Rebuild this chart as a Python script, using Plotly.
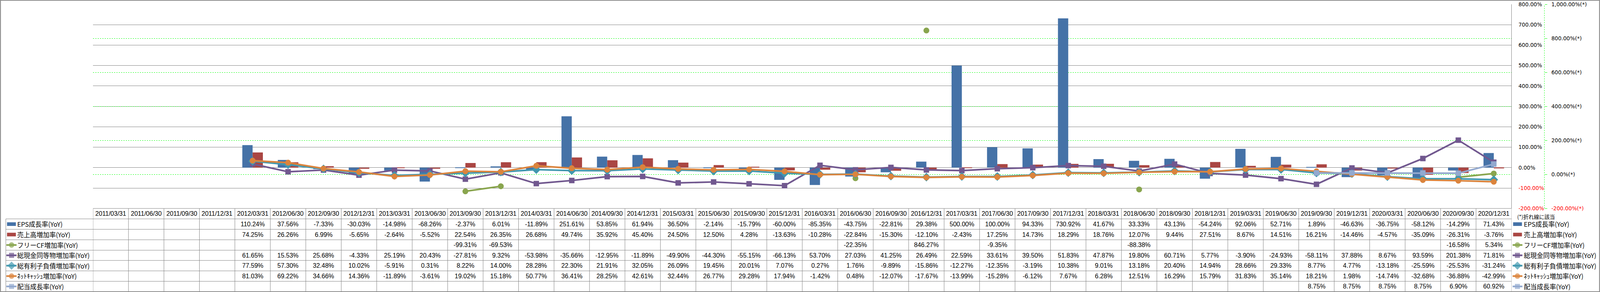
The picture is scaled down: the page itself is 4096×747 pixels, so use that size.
import plotly.graph_objects as go

# ---------------- data ----------------
dates = ["2011/03/31", "2011/06/30", "2011/09/30", "2011/12/31",
         "2012/03/31", "2012/06/30", "2012/09/30", "2012/12/31",
         "2013/03/31", "2013/06/30", "2013/09/30", "2013/12/31",
         "2014/03/31", "2014/06/30", "2014/09/30", "2014/12/31",
         "2015/03/31", "2015/06/30", "2015/09/30", "2015/12/31",
         "2016/03/31", "2016/06/30", "2016/09/30", "2016/12/31",
         "2017/03/31", "2017/06/30", "2017/09/30", "2017/12/31",
         "2018/03/31", "2018/06/30", "2018/09/30", "2018/12/31",
         "2019/03/31", "2019/06/30", "2019/09/30", "2019/12/31",
         "2020/03/31", "2020/06/30", "2020/09/30", "2020/12/31"]
N = None
eps = [N, N, N, N, 110.24, 37.56, -7.33, -30.03, -14.98, -68.26, -2.37, 6.01,
       -11.89, 251.61, 53.85, 61.94, 36.50, -2.14, -15.79, -60.00, -85.35, -43.75,
       -22.81, 29.38, 500.00, 100.00, 94.33, 730.92, 41.67, 33.33, 43.13, -54.24,
       92.06, 52.71, 1.89, -46.63, -36.75, -58.12, -14.29, 71.43]
sales = [N, N, N, N, 74.25, 26.26, 6.99, -5.65, -2.64, -5.52, 22.54, 26.35,
         26.68, 49.74, 35.92, 45.40, 24.50, 12.50, 4.28, -13.63, -10.28, -22.84,
         -15.30, -12.10, -2.43, 17.25, 14.73, 18.29, 18.76, 12.07, 9.44, 27.51,
         8.67, 14.51, 16.21, -14.46, -4.57, -35.09, -26.31, -3.76]
fcf = [N, N, N, N, N, N, N, N, N, N, -99.31, -69.53,
       N, N, N, N, N, N, N, N, N, -22.35, N, 846.27,
       N, -9.35, N, N, N, -88.38, N, N, N, N, N, N, N, N, -16.58, 5.34]
cash = [N, N, N, N, 61.65, 15.53, 25.68, -4.33, 25.19, 20.43, -27.81, 9.32,
        -53.98, -35.66, -12.95, -11.89, -49.90, -44.30, -55.15, -66.13, 53.70, 27.03,
        41.25, 26.49, 22.59, 33.61, 39.50, 51.83, 47.87, 19.80, 60.71, 5.77,
        -3.90, -24.93, -58.11, 37.88, 8.67, 93.59, 201.38, 71.81]
debt = [N, N, N, N, 77.59, 57.30, 32.48, 10.02, -5.91, 0.31, 8.22, 14.00,
        28.28, 22.30, 21.91, 32.05, 26.09, 19.45, 20.01, 7.07, 0.27, 1.76,
        -9.89, -15.86, -12.27, -12.35, -3.19, 10.38, 9.01, 13.18, 20.40, 14.94,
        28.66, 29.33, 8.77, 4.77, -13.18, -25.59, -25.53, -31.24]
netcash = [N, N, N, N, 81.03, 69.22, 34.66, 14.36, -11.89, -3.61, 19.02, 15.18,
           50.77, 36.41, 28.25, 42.61, 32.44, 26.77, 29.28, 17.94, -1.42, 0.48,
           -12.07, -17.67, -13.99, -15.28, -6.12, 7.67, 6.28, 12.51, 16.29, 15.79,
           31.83, 35.14, 18.21, 1.98, -14.74, -32.68, -36.88, -42.99]
dividend = [N, N, N, N, N, N, N, N, N, N, N, N, N, N, N, N, N, N, N, N,
            N, N, N, N, N, N, N, N, N, N, N, N, N, N, 8.75, 8.75, 8.75, 8.75, 6.90, 60.92]

series_names = ["EPS成長率(YoY)", "売上高増加率(YoY)", "フリーCF増加率(YoY)",
                "総現金同等物増加率(YoY)", "総有利子負債増加率(YoY)",
                "ﾈｯﾄｷｬｯｼｭ増加率(YoY)", "配当成長率(YoY)"]
primary_ticks = [-200, -100, 0, 100, 200, 300, 400, 500, 600, 700, 800]
secondary_ticks = [-200, 0, 200, 400, 600, 800, 1000]
note_text = "(*)折れ線に該当"

# ---------------- style ----------------
C_EPS, C_SALES = "#4572A7", "#AA4643"
C_FCF, C_CASH, C_DEBT, C_NET, C_DIV = "#89A54E", "#71588F", "#4198AF", "#DB843D", "#93A9CF"
GRID = "#808080"
GREEN = "#00FF00"
W, H = 4096, 747
RW, RH = 7052.0, 1286.0           # reference pixel frame


def px(x):
    return x / RW


def py(y):
    return 1 - y / RH


PLOT_L, PLOT_R, PLOT_T, PLOT_B = 410, 6662, 19, 918
ROWS = [918, 964, 1010, 1056, 1102, 1147, 1193, 1239, 1284]
AX2_X = 6807
TXT = "Liberation Sans"
JP = "Noto Sans CJK JP"
AXF = "DejaVu Sans"

fig = go.Figure()

# bars (primary axis)
fig.add_trace(go.Bar(x=dates, y=eps, name=series_names[0], marker=dict(color=C_EPS, line=dict(width=0)),
                     xaxis="x", yaxis="y"))
fig.add_trace(go.Bar(x=dates, y=sales, name=series_names[1], marker=dict(color=C_SALES, line=dict(width=0)),
                     xaxis="x", yaxis="y"))

line_specs = [
    (fcf, series_names[2], C_FCF, "circle", 15),
    (cash, series_names[3], C_CASH, "square", 14),
    (debt, series_names[4], C_DEBT, "diamond", 17),
    (netcash, series_names[5], C_NET, "circle", 15),
    (dividend, series_names[6], C_DIV, "square", 14),
]
for vals, nm, col, sym, sz in line_specs:
    fig.add_trace(go.Scatter(x=dates, y=vals, name=nm, mode="lines+markers",
                             line=dict(color=col, width=4.2),
                             marker=dict(color=col, symbol=sym, size=sz, line=dict(width=0)),
                             connectgaps=False, xaxis="x", yaxis="y2"))

# ---------------- legend keys (auxiliary full-frame axis) ----------------
row_centers = [(ROWS[i] + ROWS[i + 1]) / 2 for i in range(1, 8)]
shapes = []
annotations = []

for kx0, kx1, lx0, lx1, mx in [(31, 70, 28, 73, 51), (6669, 6708, 6667, 6710, 6688)]:
    for r, col in [(0, C_EPS), (1, C_SALES)]:
        cy = row_centers[r]
        shapes.append(dict(type="rect", xref="paper", yref="paper",
                           x0=px(kx0), x1=px(kx1), y0=py(cy + 8), y1=py(cy - 8),
                           fillcolor=col, line=dict(width=0)))
    for j, (vals, nm, col, sym, sz) in enumerate(line_specs):
        cy = row_centers[j + 2]
        fig.add_trace(go.Scatter(x=[lx0, mx, lx1], y=[cy, cy, cy], mode="lines+markers",
                                 line=dict(color=col, width=4.2),
                                 marker=dict(color=col, symbol=sym, size=[0, sz - 1, 0], line=dict(width=0)),
                                 xaxis="x3", yaxis="y3", hoverinfo="skip", showlegend=False))

# ---------------- table ----------------
# outer border
shapes.append(dict(type="rect", xref="paper", yref="paper", x0=0.0003, x1=0.9997, y0=0.001, y1=0.999,
                   line=dict(color=GRID, width=2)))
# horizontal row lines
for yy in ROWS[1:-1]:
    shapes.append(dict(type="line", xref="paper", yref="paper", x0=px(25.7), x1=px(PLOT_R),
                       y0=py(yy), y1=py(yy), line=dict(color=GRID, width=1)))
shapes.append(dict(type="line", xref="paper", yref="paper", x0=px(PLOT_L), x1=px(PLOT_R),
                   y0=py(ROWS[0]), y1=py(ROWS[0]), line=dict(color=GRID, width=1)))
# vertical column lines
shapes.append(dict(type="line", xref="paper", yref="paper", x0=px(25.7), x1=px(25.7),
                   y0=py(ROWS[1]), y1=py(ROWS[-1]), line=dict(color=GRID, width=1)))
for k in range(len(dates) + 1):
    shapes.append(dict(type="line", xref="x", yref="paper", x0=k - 0.5, x1=k - 0.5,
                       y0=py(ROWS[0]), y1=py(ROWS[-1]), line=dict(color=GRID, width=1)))
# secondary axis dashed line
shapes.append(dict(type="line", xref="paper", yref="paper", x0=px(AX2_X), x1=px(AX2_X),
                   y0=py(PLOT_B), y1=py(PLOT_T), line=dict(color=GREEN, width=1, dash="3px,3px")))

# header dates
hdr_c = (ROWS[0] + ROWS[1]) / 2
for d in dates:
    annotations.append(dict(x=d, y=py(hdr_c), xref="x", yref="paper", text=d, showarrow=False,
                            xanchor="center", yanchor="middle", font=dict(family=TXT, size=16, color="black")))
# values
all_series = [eps, sales, fcf, cash, debt, netcash, dividend]
for r, vals in enumerate(all_series):
    cy = row_centers[r]
    for d, v in zip(dates, vals):
        if v is None:
            continue
        annotations.append(dict(x=d, y=py(cy), xref="x", yref="paper", text=f"{v:.2f}%", showarrow=False,
                                xanchor="center", yanchor="middle",
                                font=dict(family=TXT, size=16, color="black")))
    # row labels left and right
    annotations.append(dict(x=px(73), y=py(cy), xref="paper", yref="paper", text=series_names[r],
                            showarrow=False, xanchor="left", yanchor="middle",
                            font=dict(family=JP, size=16.5, color="black")))
    annotations.append(dict(x=px(6713), y=py(cy), xref="paper", yref="paper", text=series_names[r],
                            showarrow=False, xanchor="left", yanchor="middle",
                            font=dict(family=JP, size=16.5, color="black")))
annotations.append(dict(x=px(6683), y=py(953), xref="paper", yref="paper", text=note_text,
                        showarrow=False, xanchor="left", yanchor="middle",
                        font=dict(family=JP, size=13.5, color="black")))


def fmt(v, suffix=""):
    s = f"{v:,.2f}%{suffix}"
    if v < 0:
        return f'<span style="color:#FF0000">{s}</span>'
    return s


fig.update_layout(
    width=W, height=H, margin=dict(l=0, r=0, t=0, b=0, autoexpand=False),
    paper_bgcolor="white", plot_bgcolor="rgba(0,0,0,0)",
    showlegend=False, barmode="group", bargap=0.42, bargroupgap=0,
    xaxis=dict(domain=[px(PLOT_L), px(PLOT_R)], type="category", range=[-0.5, len(dates) - 0.5],
               showticklabels=False, showgrid=False, zeroline=False, showline=False, ticks="",
               automargin=False),
    yaxis=dict(domain=[py(PLOT_B), py(PLOT_T)], range=[-200, 800], side="right",
               tickmode="array", tickvals=primary_ticks, ticktext=[fmt(v) for v in primary_ticks],
               showgrid=True, gridcolor=GRID, gridwidth=1, zeroline=False, automargin=False,
               showline=True, linecolor=GRID, linewidth=1, ticks="", ticklabelstandoff=14,
               tickfont=dict(family=AXF, size=13.6, color="black")),
    yaxis2=dict(overlaying="y", anchor="free", position=px(AX2_X), side="right", range=[-200, 1000],
                tickmode="array", tickvals=secondary_ticks,
                ticktext=[fmt(v, "(*)") for v in secondary_ticks], automargin=False,
                showgrid=True, gridcolor=GREEN, gridwidth=1, griddash="3px,3px", zeroline=False,
                showline=False, ticks="outside", ticklen=6, tickcolor=GREEN, tickwidth=1,
                ticklabelstandoff=8, tickfont=dict(family=AXF, size=13.6, color="black")),
    xaxis3=dict(domain=[0, 1], range=[0, RW], visible=False, anchor="y3", automargin=False),
    yaxis3=dict(domain=[0, 1], range=[RH, 0], visible=False, anchor="x3", automargin=False),
    shapes=shapes, annotations=annotations,
)

fig.write_html("out.html", config={"displayModeBar": False},
               post_script="document.body.style.margin='0px';document.body.style.overflow='hidden';")
